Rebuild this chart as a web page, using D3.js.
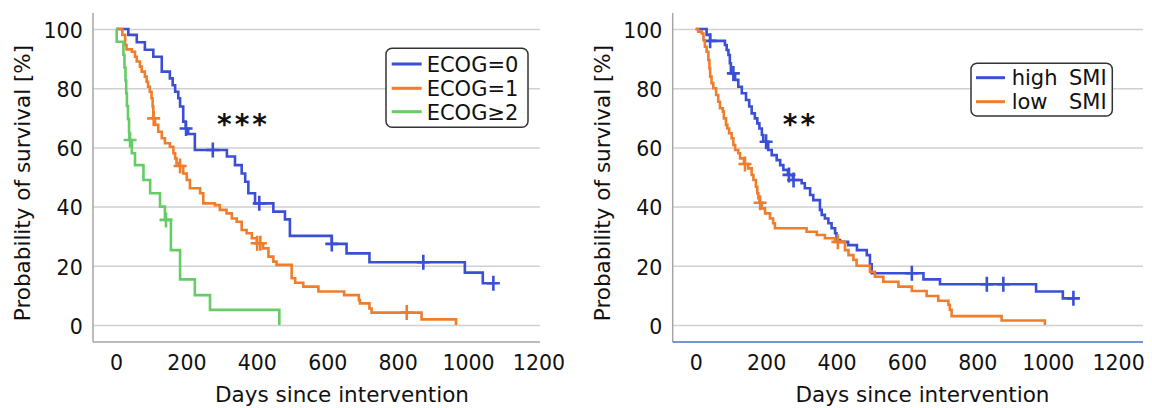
<!DOCTYPE html>
<html>
<head>
<meta charset="utf-8">
<script src="https://cdn.jsdelivr.net/npm/d3@7"></script>
<style>
  body { margin: 0; background: #fff; }
  svg { display: block; font-family: "DejaVu Sans", Verdana, sans-serif; }
</style>
</head>
<body>
<svg id="chart" width="1152" height="408"></svg>
<script>
// Kaplan-Meier step data (days, survival %)
const xTicks = [0, 200, 400, 600, 800, 1000, 1200];
const yTicks = [0, 20, 40, 60, 80, 100];

const ecog0Days = [0, 35, 59, 82, 106, 130, 153, 161, 168, 177, 182, 191, 198, 205, 224, 315, 338, 357, 367, 376, 395, 447, 480, 494, 613, 655, 720, 991, 1042];
const ecog0Surv = [100, 98, 95.5, 93, 90.6, 85.6, 83.3, 81, 78.8, 76.6, 73.8, 68.7, 66.4, 64.5, 59.1, 56.9, 54, 51.2, 48.4, 44.5, 41.1, 38.3, 35.7, 30.1, 27.4, 24.2, 21.2, 17.7, 14.1];
const ecog0Censor = [199, 275, 407, 613, 873, 1072];

const ecog1Days = [0, 18, 26, 30, 45, 54, 59, 68, 73, 82, 87, 91, 96, 101, 104, 106, 111, 120, 130, 139, 153, 163, 168, 172, 178, 191, 201, 210, 239, 248, 281, 295, 314, 329, 343, 357, 371, 386, 400, 418, 433, 447, 456, 499, 509, 532, 575, 648, 690, 693, 720, 726, 868, 966];
const ecog1Surv = [100, 98, 94.6, 93.1, 92.3, 90.6, 89, 87.3, 85.6, 83.9, 82.2, 80.5, 78.8, 76.6, 73.8, 69.8, 67.6, 65.3, 63.1, 61.4, 60.2, 58, 56.3, 54.6, 53.7, 51.2, 49, 46.2, 44.5, 41.1, 40.5, 38.9, 37.7, 36, 34.9, 32.1, 31, 29.3, 27.6, 25.9, 23.1, 21.4, 20.3, 15.8, 14.3, 12.95, 11.3, 10.1, 8.4, 7.3, 5.6, 4.2, 1.9, 0];
const ecog1Censor = [107, 182, 401, 410, 826];

const ecog2Days = [0, 2, 21, 24, 27, 29, 31, 34, 37, 38, 45, 54, 78, 97, 125, 139, 156, 182, 224, 267, 464];
const ecog2Surv = [100, 95.7, 91.3, 87, 82.6, 78.3, 74, 69.6, 65.2, 62.5, 58, 54, 49, 44.5, 40, 35.5, 25.3, 15.4, 10.1, 5.1, 0];
const ecog2Censor = [40, 142];

const highDays = [0, 31, 41, 83, 88, 93, 97, 100, 112, 121, 131, 143, 152, 159, 168, 175, 181, 188, 192, 206, 216, 230, 240, 249, 262, 276, 301, 310, 325, 334, 353, 358, 367, 377, 386, 396, 400, 410, 433, 458, 486, 495, 500, 647, 694, 967, 1043];
const highSurv = [100, 98, 96, 94.6, 92.9, 91.2, 88.4, 85, 82.8, 80.5, 78.3, 76, 73.8, 71.5, 69.8, 68.1, 66.4, 64.2, 61.9, 59.1, 57.4, 55.7, 54, 52.4, 50.7, 49, 47.9, 46.2, 43.9, 42.2, 38.9, 37.2, 36, 34.4, 32.7, 31, 28.7, 28.1, 27, 25.3, 23.6, 20.5, 17.5, 15.4, 13.75, 11.3, 9];
const highCensor = [41, 107, 200, 265, 278, 614, 827, 874, 1073];

const lowDays = [0, 7, 17, 22, 26, 31, 36, 39, 41, 45, 50, 58, 64, 69, 77, 80, 86, 90, 95, 102, 107, 112, 121, 126, 137, 149, 159, 164, 171, 175, 178, 181, 188, 197, 211, 220, 225, 315, 344, 367, 396, 424, 434, 448, 457, 495, 509, 533, 576, 614, 656, 689, 718, 722, 727, 869, 992];
const lowSurv = [100, 99.1, 98.5, 96.3, 94, 92.3, 89.5, 86.7, 83.9, 81.7, 80, 77.7, 75.4, 73.2, 72.1, 69.8, 67.6, 66.4, 64.8, 63.1, 60.8, 59.1, 58, 56.3, 54.4, 52.9, 50.7, 49, 46.7, 44.5, 42.8, 41.3, 39.4, 37.7, 36, 34.4, 32.7, 31.5, 30.4, 29.3, 28.1, 25.3, 23.6, 22, 20, 18, 16.3, 14.6, 12.95, 11.5, 9.8, 8.2, 6.8, 5.1, 3.0, 1.5, 0];
const lowCensor = [140, 183, 404];

const leftLegend = ["ECOG=0", "ECOG=1", "ECOG\u22652"];
const rightLegend = [["high", "SMI"], ["low", "SMI"]];

const BLUE = "#3b4fd6", ORANGE = "#f07d2c", GREEN = "#66cc66";

const svg = d3.select("#chart");
const y = d3.scaleLinear().domain([-5.74, 105.4]).range([342, 13]);

function survAt(days, surv, d) {
  let v = surv[0];
  for (let i = 0; i < days.length; i++) if (days[i] <= d) v = surv[i];
  return v;
}

function panel(opts) {
  const x = d3.scaleLinear().domain(opts.domain).range(opts.range);
  const g = svg.append("g");
  const left = opts.range[0], right = opts.range[1];

  // gridlines + y labels
  const ya = g.append("g")
    .attr("transform", `translate(${left},0)`)
    .call(d3.axisLeft(y).tickValues(yTicks).tickSize(-(right - left)).tickPadding(10.3));
  ya.select(".domain").remove();
  ya.selectAll(".tick line").attr("stroke", "#d0d0d0").attr("stroke-width", 1.5);
  ya.selectAll(".tick text").attr("dy", "0.4em").attr("font-size", 20.5)
    .attr("fill", "#111").attr("font-family", "DejaVu Sans, Verdana, sans-serif");

  // x labels
  const xa = g.append("g")
    .attr("transform", `translate(0,342)`)
    .call(d3.axisBottom(x).tickValues(xTicks).tickFormat(d3.format("d")).tickSize(0));
  xa.select(".domain").remove();
  xa.selectAll(".tick text").attr("y", 28).attr("dy", null).attr("font-size", 20.5)
    .attr("fill", "#111").attr("font-family", "DejaVu Sans, Verdana, sans-serif");

  // axis lines
  g.append("line").attr("x1", left).attr("x2", left).attr("y1", 13).attr("y2", 342)
    .attr("stroke", "#a6a6a6").attr("stroke-width", 1.5);
  g.append("line").attr("x1", left).attr("x2", right).attr("y1", 342).attr("y2", 342)
    .attr("stroke", opts.bottomColor).attr("stroke-width", 1.3);

  // titles
  g.append("text").attr("transform", `translate(${opts.yTitleX},183) rotate(-90)`)
    .attr("text-anchor", "middle").attr("dy", "0.35em").attr("font-size", 21.5).attr("fill", "#111")
    .text("Probability of survival [%]");
  g.append("text").attr("x", opts.xTitleX).attr("y", 401.5)
    .attr("text-anchor", "middle").attr("font-size", 21.5).attr("fill", "#111")
    .text("Days since intervention");

  const line = d3.line().x(d => x(d[0])).y(d => y(d[1])).curve(d3.curveStepAfter);
  opts.series.forEach(s => {
    const pts = s.days.map((d, i) => [d, s.surv[i]]);
    const lastC = s.censor.length ? s.censor[s.censor.length - 1] : 0;
    if (lastC > s.days[s.days.length - 1]) pts.push([lastC, s.surv[s.surv.length - 1]]);
    g.append("path").datum(pts).attr("d", line)
      .attr("fill", "none").attr("stroke", s.color).attr("stroke-width", 2.6);
    g.selectAll(null).data(s.censor).enter().append("path")
      .attr("transform", d => `translate(${x(d)},${y(survAt(s.days, s.surv, d))})`)
      .attr("d", "M-6.5,0H6.5M0,-7.5V7.5")
      .attr("stroke", s.color).attr("stroke-width", 2.6).attr("fill", "none");
  });

  g.append("text").attr("x", opts.starX).attr("y", 134).attr("text-anchor", "middle")
    .attr("font-size", 28).attr("font-weight", "bold").attr("letter-spacing", 3)
    .attr("fill", "#111").text(opts.stars);
  return g;
}

const gl = panel({
  domain: [-65.34, 1204.5], range: [93, 540], bottomColor: "#a6a6a6",
  yTitleX: 22.7, xTitleX: 342, starX: 243.5, stars: "***",
  series: [
    {days: ecog0Days, surv: ecog0Surv, censor: ecog0Censor, color: BLUE},
    {days: ecog1Days, surv: ecog1Surv, censor: ecog1Censor, color: ORANGE},
    {days: ecog2Days, surv: ecog2Surv, censor: ecog2Censor, color: GREEN}
  ]
});

const gr = panel({
  domain: [-65.34, 1270.7], range: [672.7, 1143], bottomColor: "#4472c4",
  yTitleX: 602.4, xTitleX: 922.5, starX: 800.5, stars: "**",
  series: [
    {days: highDays, surv: highSurv, censor: highCensor, color: BLUE},
    {days: lowDays, surv: lowSurv, censor: lowCensor, color: ORANGE}
  ]
});

// legends
const lgL = svg.append("g");
lgL.append("rect").attr("x", 386).attr("y", 48.3).attr("width", 142).attr("height", 79).attr("rx", 6)
  .attr("fill", "#fff").attr("stroke", "#333").attr("stroke-width", 1.5);
const leftColors = [BLUE, ORANGE, GREEN];
const leftRows = [64, 88.3, 111.7];
leftLegend.forEach((t, i) => {
  lgL.append("line").attr("x1", 391.7).attr("x2", 421.7).attr("y1", leftRows[i]).attr("y2", leftRows[i])
    .attr("stroke", leftColors[i]).attr("stroke-width", 3);
  lgL.append("text").attr("x", 426.7).attr("y", leftRows[i] + 7.8).attr("font-size", 21)
    .attr("fill", "#111").text(t);
});

const lgR = svg.append("g");
lgR.append("rect").attr("x", 971).attr("y", 63.3).attr("width", 141.3).attr("height", 52.7).attr("rx", 6)
  .attr("fill", "#fff").attr("stroke", "#333").attr("stroke-width", 1.5);
const rightColors = [BLUE, ORANGE];
const rightRows = [77.7, 101.7];
rightLegend.forEach((t, i) => {
  lgR.append("line").attr("x1", 976).attr("x2", 1005).attr("y1", rightRows[i]).attr("y2", rightRows[i])
    .attr("stroke", rightColors[i]).attr("stroke-width", 3);
  lgR.append("text").attr("x", 1011.7).attr("y", rightRows[i] + 7.5).attr("font-size", 21)
    .attr("fill", "#111").text(t[0]);
  lgR.append("text").attr("x", 1106.7).attr("y", rightRows[i] + 7.5).attr("font-size", 21)
    .attr("text-anchor", "end").attr("fill", "#111").text(t[1]);
});
</script>
</body>
</html>
